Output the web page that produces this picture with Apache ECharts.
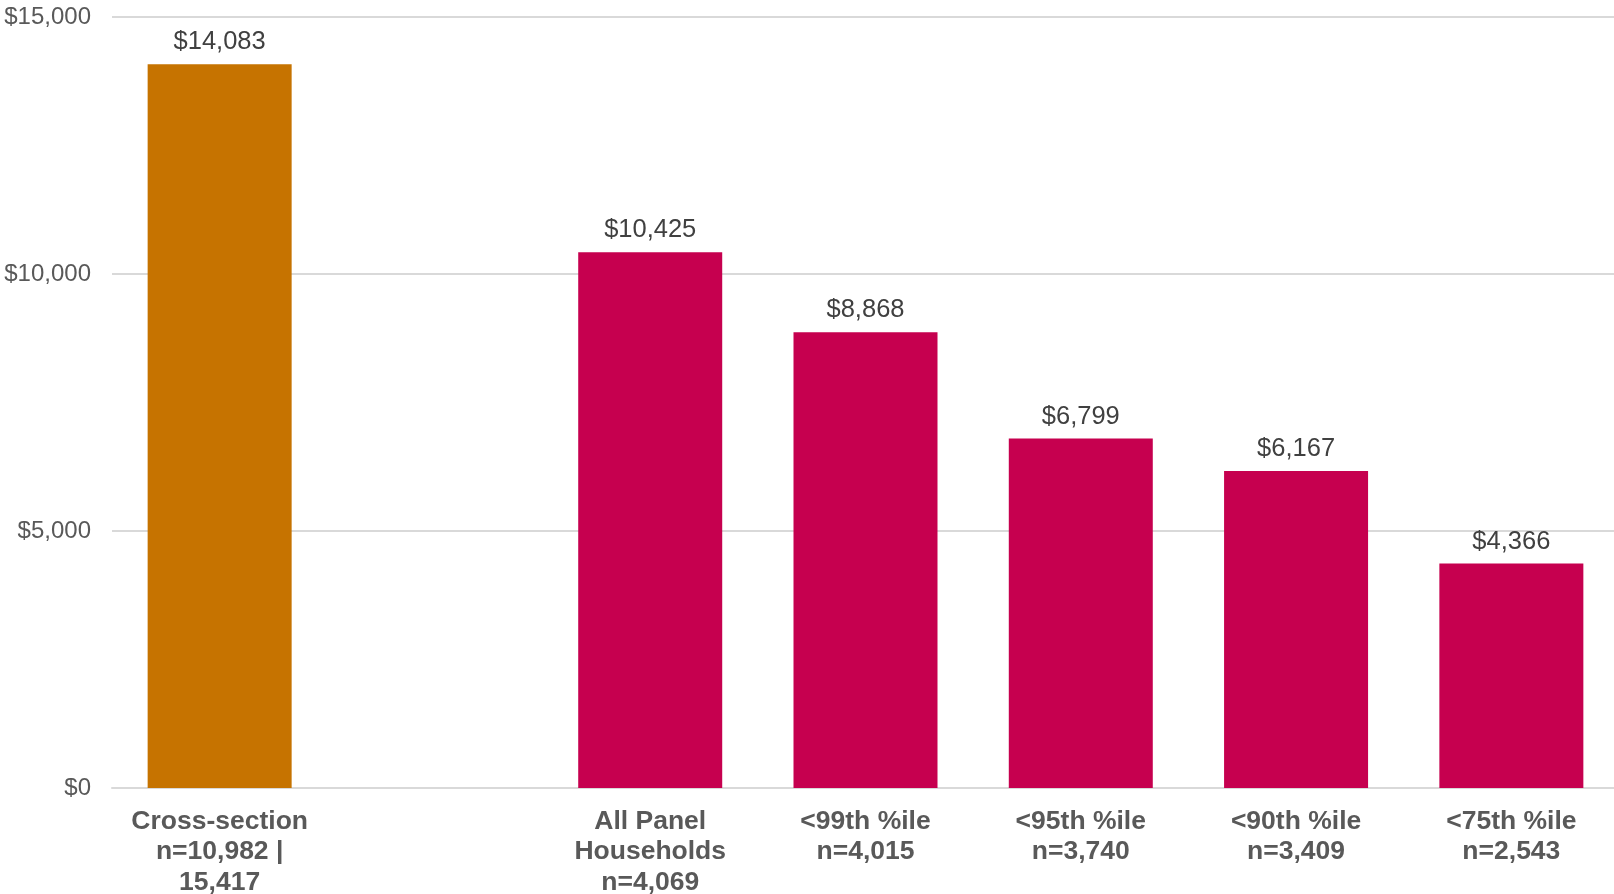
<!DOCTYPE html>
<html>
<head>
<meta charset="utf-8">
<title>Average values by sample</title>
<script src="https://cdn.jsdelivr.net/npm/echarts@6/dist/echarts.min.js"></script>
<style>
  html, body { margin: 0; padding: 0; background: #ffffff; }
  #chart { width: 1614px; height: 894px; }
</style>
</head>
<body>
<div id="chart"></div>
<script>
// Sample groups (one blank slot separates the cross-section from the panel groups)
const categories = [
  'Cross-section\nn=10,982 |\n15,417',
  '',
  'All Panel\nHouseholds\nn=4,069',
  '<99th %ile\nn=4,015',
  '<95th %ile\nn=3,740',
  '<90th %ile\nn=3,409',
  '<75th %ile\nn=2,543'
];
const values = [14083, null, 10425, 8868, 6799, 6167, 4366];
const groupColors = ['#C67300', null, '#C6004F', '#C6004F', '#C6004F', '#C6004F', '#C6004F'];
const yTicks = { min: 0, max: 15000, interval: 5000 };

const fmtMoney = v => '$' + Number(v).toLocaleString('en-US');

const chart = echarts.init(document.getElementById('chart'), null, { renderer: 'canvas' });

chart.setOption({
  animation: false,
  backgroundColor: '#ffffff',
  // fixed plot box; the plot runs slightly past the right edge of the canvas
  grid: {
    left: 112, width: 1507, top: 17, bottom: 106,
    containLabel: false,
    outerBoundsMode: 'none'
  },
  xAxis: {
    type: 'category',
    data: categories,
    axisLine: { show: true, lineStyle: { color: '#d9d9d9', width: 2 } },
    axisTick: { show: false },
    axisLabel: {
      interval: 0,
      margin: 18,
      color: '#595959',
      fontFamily: 'Liberation Sans, Arial, sans-serif',
      fontWeight: 'bold',
      fontSize: 26.5,
      lineHeight: 30.5
    }
  },
  yAxis: {
    type: 'value',
    min: yTicks.min,
    max: yTicks.max,
    interval: yTicks.interval,
    axisLine: { show: false },
    axisTick: { show: false },
    splitLine: { lineStyle: { color: '#d9d9d9', width: 2 } },
    axisLabel: {
      margin: 21,
      color: '#595959',
      fontFamily: 'Liberation Sans, Arial, sans-serif',
      fontSize: 24,
      formatter: fmtMoney
    }
  },
  series: [{
    type: 'bar',
    barWidth: 144,
    data: values.map((v, i) => ({
      value: v,
      itemStyle: { color: groupColors[i] || '#C6004F' }
    })),
    label: {
      show: true,
      position: 'top',
      distance: 9,
      color: '#404040',
      fontFamily: 'Liberation Sans, Arial, sans-serif',
      fontSize: 25.5,
      formatter: p => (p.value == null ? '' : fmtMoney(p.value))
    }
  }]
});
</script>
</body>
</html>
